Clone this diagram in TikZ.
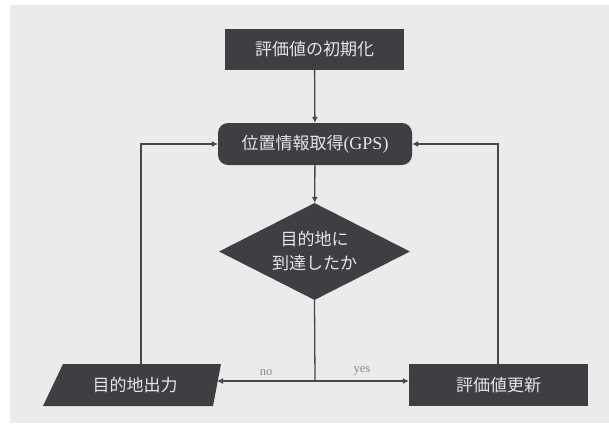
\documentclass[tikz,border=0pt]{standalone}
\usepackage{fontspec}
\setmainfont{Liberation Serif}
\newfontfamily\cjk{Noto Sans CJK JP}
\usetikzlibrary{shapes.geometric,arrows.meta,calc}
\definecolor{boxfill}{HTML}{3E3E43}
\definecolor{boxtext}{HTML}{E6E6E6}
\definecolor{linecol}{HTML}{474747}
\definecolor{paper}{HTML}{EBEBEB}
\definecolor{labcol}{HTML}{8A8A8A}
\tikzset{
  stepbox/.style={fill=boxfill, text=boxtext, inner sep=0pt, font=\cjk\fontsize{17}{21}\selectfont},
  steptext/.style={text=boxtext, inner sep=0pt, font=\cjk\fontsize{17}{21}\selectfont},
  conn/.style={draw=linecol, line width=1.3pt, -{Latex[length=6pt,width=6pt]}},
  plainline/.style={draw=linecol, line width=1.3pt},
  edgelab/.style={text=labcol, font=\fontsize{12.5}{14}\selectfont, inner sep=1pt}
}
\begin{document}
\begin{tikzpicture}[x=1pt,y=-1pt]
\useasboundingbox (0,0) rectangle (609,423);
\fill[white] (0,0) rectangle (609,423);
\fill[paper] (10,5) rectangle (609,423);

\node[stepbox, rectangle, minimum width=179pt, minimum height=41pt] (init) at (314.5,49.5) {評価値の初期化};
\node[stepbox, rectangle, rounded corners=10pt, minimum width=194pt, minimum height=42pt] (gps) at (315,144) {位置情報取得{\rmfamily\fontsize{18}{20}\selectfont(GPS)}};
\node[stepbox, diamond, aspect=2, minimum width=191pt, minimum height=97pt, align=center] (dec) at (314.5,251.5) {目的地に\\[3pt]到達したか};
\fill[boxfill] (43,406) -- (63,364) -- (221,364) -- (213,406) -- cycle;
\node[steptext] (out) at (135,385) {目的地出力};
\node[stepbox, rectangle, minimum width=179pt, minimum height=42pt] (upd) at (498.5,385) {評価値更新};

\coordinate (jn) at (315,381);
\coordinate (outR) at (217,381);
\coordinate (outT) at (141,364);
\coordinate (lc) at (141,144);
\coordinate (rc) at (498,144);

\draw[conn] (init) -- (gps);
\draw[conn] (gps) -- (dec);
\draw[plainline] (dec.south) -- (jn);
\draw[conn] (jn) -- node[edgelab, above=4pt, pos=0.5] {no} (outR);
\draw[conn] (jn) -- node[edgelab, above=4pt, pos=0.5] {yes} (upd.west |- jn);
\draw[conn] (outT) -- (lc) -- (gps.west);
\draw[conn] (upd.north -| rc) -- (rc) -- (gps.east);
\end{tikzpicture}
\end{document}
